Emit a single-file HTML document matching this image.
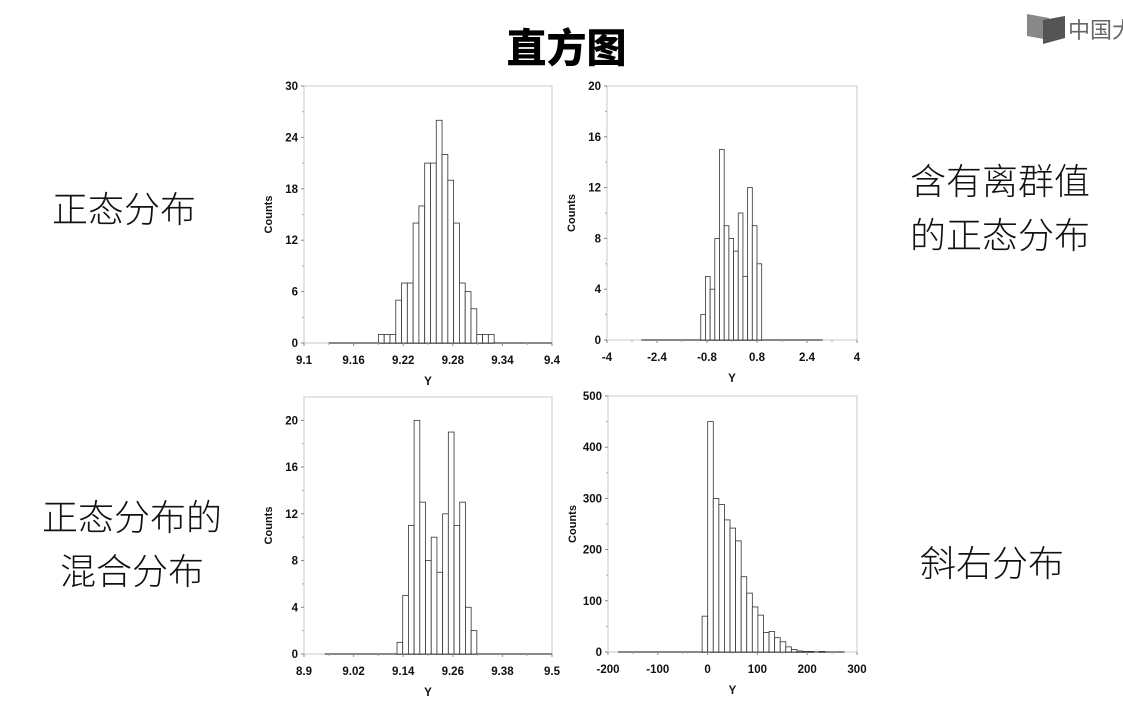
<!DOCTYPE html>
<html><head><meta charset="utf-8">
<style>
html,body{margin:0;padding:0;background:#fff;}
#root{position:relative;width:1123px;height:709px;overflow:hidden;background:#fff;font-family:"Liberation Sans","Noto Sans CJK SC",sans-serif;}
.cn{position:absolute;font-family:"Liberation Sans","Noto Sans CJK SC",sans-serif;font-weight:300;color:#111;font-size:36px;line-height:54px;text-align:center;white-space:nowrap;}
#title{position:absolute;left:0;width:1133px;top:24px;text-align:center;font-size:40px;font-weight:900;line-height:50px;color:#000;font-family:"Liberation Sans","Noto Sans CJK SC",sans-serif;}
#logo{position:absolute;left:1025px;top:10px;}
svg text{font-family:"Liberation Sans Narrow","Liberation Sans",sans-serif;font-weight:bold;}
</style></head><body>
<div id="root">
<div id="title">直方图</div>
<div id="logo">
<svg width="110" height="40">
<polygon points="2,4 24,8 24,30 2,26" fill="#888"/><polygon points="18,10 40,6 40,28 18,34" fill="#555"/>
<text x="43" y="28" font-size="22" fill="#666" style="font-family:'Noto Sans CJK SC',sans-serif;font-weight:400">中国大</text>
</svg></div>
<div class="cn" style="left:44px;top:183px;width:160px;">正态分布</div>
<div class="cn" style="left:900px;top:155px;width:200px;">含有离群值<br>的正态分布</div>
<div class="cn" style="left:32px;top:491px;width:200px;">正态分布的<br>混合分布</div>
<div class="cn" style="left:912px;top:537px;width:160px;">斜右分布</div>
<svg id="charts" width="1123" height="709" style="position:absolute;left:0;top:0"></svg>
</div>
<script>
// chart 1: normal
const c1Counts=[1,1,1,5,7,7,14,16,21,21,26,22,19,14,7,6,4,1,1,1];
const c1Start=9.19, c1Bin=0.007;
const c1XTicks=["9.1","9.16","9.22","9.28","9.34","9.4"];
const c1YTicks=["0","6","12","18","24","30"];
// chart 2: normal with outliers
const c2Counts=[2,5,4,8,15,9,8,7,10,5,12,9,6];
const c2Start=-1.0, c2Bin=0.15;
const c2XTicks=["-4","-2.4","-0.8","0.8","2.4","4"];
const c2YTicks=["0","4","8","12","16","20"];
// chart 3: mixture
const c3Counts=[1,5,11,20,13,8,10,7,12,19,11,13,4,2];
const c3Start=9.125, c3Bin=0.0138;
const c3XTicks=["8.9","9.02","9.14","9.26","9.38","9.5"];
const c3YTicks=["0","4","8","12","16","20"];
// chart 4: right skewed
const c4Counts=[70,450,300,288,258,242,217,147,115,88,72,38,40,28,20,10,5,2,1,1,0,1];
const c4Start=-11, c4Bin=11.2;
const c4XTicks=["-200","-100","0","100","200","300"];
const c4YTicks=["0","100","200","300","400","500"];

const NS="http://www.w3.org/2000/svg";
const svg=document.getElementById('charts');
function mk(tag,attrs,parent){const e=document.createElementNS(NS,tag);for(const k in attrs)e.setAttribute(k,attrs[k]);(parent||svg).appendChild(e);return e;}

function chart(name,L,R,T,B,xmin,xmax,ymax,counts,start,bin,xt,yt,baseFrom,baseTo){
  const g=mk('g',{});
  
  
  const xs=v=>L+(v-xmin)/(xmax-xmin)*(R-L);
  const ys=v=>B-(v/ymax)*(B-T);
  const frame=mk('rect',{x:L,y:T,width:R-L,height:B-T,fill:'none',stroke:'#c8c8c8','stroke-width':1},g);
  
  
  const base=mk('line',{x1:xs(baseFrom),x2:xs(baseTo),y1:B,y2:B,stroke:'#888','stroke-width':2},g);
  
  
  counts.forEach((c,i)=>{
    const x0=xs(start+i*bin),x1=xs(start+(i+1)*bin);
    const r=mk('rect',{x:x0,y:ys(c),width:x1-x0,height:B-ys(c),fill:'#fff',stroke:'#333','stroke-width':0.8},g);
    
    
  });
  const nx=xt.length;
  xt.forEach((t,i)=>{
    const v=parseFloat(t);const x=xs(v);
    mk('line',{x1:x,x2:x,y1:B,y2:B+3,stroke:'#888'},g);
    if(i<nx-1){const xm=xs(v+(parseFloat(xt[1])-parseFloat(xt[0]))/2);mk('line',{x1:xm,x2:xm,y1:B,y2:B+2,stroke:'#aaa'},g);}
    const tx=mk('text',{x:x,y:B+21,'font-size':11.5,'text-anchor':'middle',fill:'#111'},g);
    tx.textContent=t;
    
    
  });
  yt.forEach((t,i)=>{
    const v=parseFloat(t);const y=ys(v);
    mk('line',{x1:L-3,x2:L,y1:y,y2:y,stroke:'#888'},g);
    if(i<yt.length-1){const ym=ys(v+(parseFloat(yt[1])-parseFloat(yt[0]))/2);mk('line',{x1:L-2,x2:L,y1:ym,y2:ym,stroke:'#aaa'},g);}
    const tx=mk('text',{x:L-6,y:y+4,'font-size':11.5,'text-anchor':'end',fill:'#111'},g);
    tx.textContent=t;
    
    
  });
  const yl=mk('text',{x:0,y:0,'font-size':11,'text-anchor':'middle',fill:'#111',transform:`translate(${L-32},${(T+B)/2}) rotate(-90)`},g);
  yl.textContent='Counts';
  
  
  const xl=mk('text',{x:(L+R)/2,y:B+42,'font-size':11.5,'text-anchor':'middle',fill:'#111'},g);
  xl.textContent='Y';
  
  
}
chart('histogram-normal',304,552,86,343,9.1,9.4,30,c1Counts,c1Start,c1Bin,c1XTicks,c1YTicks,9.13,9.4);
chart('histogram-outliers',607,857,86,340,-4,4,20,c2Counts,c2Start,c2Bin,c2XTicks,c2YTicks,-2.9,2.9);
chart('histogram-mixture',304,552,397,654,8.9,9.5,22,c3Counts,c3Start,c3Bin,c3XTicks,c3YTicks,8.95,9.5);
chart('histogram-right-skewed',608,857,396,652,-200,300,500,c4Counts,c4Start,c4Bin,c4XTicks,c4YTicks,-180,275);
</script>
</body></html>
